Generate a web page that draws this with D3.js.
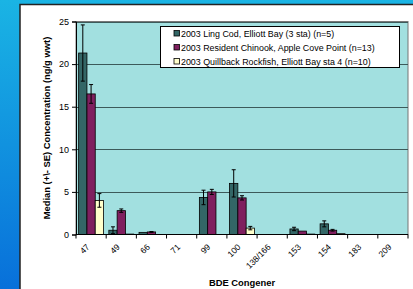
<!DOCTYPE html>
<meta charset="utf-8"/>
<style>
  html, body { margin: 0; padding: 0; overflow: hidden; }
  text { font-family: "Liberation Sans", Arial, sans-serif; fill: #000; }
</style>
<body>
<svg width="413" height="289"></svg>
</body>
<script src="https://d3js.org/d3.v7.min.js"></script>
<script>

  var congeners = ["47", "49", "66", "71", "99", "100", "138/166", "153", "154", "183", "209"]
  var seriesNames = [
    "2003 Ling Cod, Elliott Bay (3 sta) (n=5)",
    "2003 Resident Chinook, Apple Cove Point (n=13)",
    "2003 Quillback Rockfish, Elliott Bay sta 4 (n=10)"
  ]
  var seriesColors = ["#336666", "#7f1f5f", "#ffffcc"]

  // medians per congener
  var lingCod  = [21.3, 0.5, 0.25, 0, 4.35, 6.0, 0, 0.65, 1.25, 0, 0]
  var chinook  = [16.5, 2.8, 0.3, 0, 5.0, 4.3, 0, 0.4, 0.5, 0, 0]
  var quillback = [4.0, 0.05, 0, 0, 0, 0.75, 0, 0.05, 0.1, 0, 0]
  // standard errors (0 = no whisker)
  var lingCodSE  = [3.3, 0.4, 0, 0, 0.85, 1.6, 0, 0.2, 0.35, 0, 0]
  var chinookSE  = [1.1, 0.2, 0.05, 0, 0.3, 0.25, 0, 0, 0.1, 0, 0]
  var quillbackSE = [0.8, 0, 0, 0, 0, 0.2, 0, 0, 0, 0, 0]

  var yTicks = [0, 5, 10, 15, 20, 25]

  var svg = d3.select("svg")

  // blue backdrop
  var defs = svg.append("defs")
  var grad = defs.append("linearGradient").attr("id", "bg")
    .attr("x1", 0).attr("y1", 0).attr("x2", 0).attr("y2", 1)
  grad.append("stop").attr("offset", "0%").attr("stop-color", "#1ab4e4")
  grad.append("stop").attr("offset", "100%").attr("stop-color", "#0870da")
  svg.append("rect").attr("width", 413).attr("height", 289).attr("fill", "url(#bg)")

  // white chart panel
  svg.append("rect")
    .attr("x", 20).attr("y", 4.5).attr("width", 420).attr("height", 300)
    .attr("fill", "#fff").attr("stroke", "#222").attr("stroke-width", 1.5)

  var margin = { left: 76, top: 21.5, right: 408, bottom: 234.5 }

  var x = d3.scaleBand().domain(congeners).range([margin.left, margin.right])
  var y = d3.scaleLinear().domain([0, 25]).range([margin.bottom, margin.top])
  var inner = d3.scaleBand().domain(d3.range(3)).range([0, x.bandwidth()]).paddingOuter(0.32).paddingInner(0)

  // plot area
  svg.append("rect")
    .attr("x", margin.left).attr("y", margin.top)
    .attr("width", margin.right - margin.left).attr("height", margin.bottom - margin.top)
    .attr("fill", "#a2e0e0").attr("stroke", "#777").attr("stroke-width", 1)

  // gridlines
  svg.append("g").selectAll("line")
    .data(yTicks.filter(function (d) { return d > 0 }))
    .enter().append("line")
    .attr("x1", margin.left).attr("x2", margin.right)
    .attr("y1", function (d) { return Math.round(y(d)) + 0.5 })
    .attr("y2", function (d) { return Math.round(y(d)) + 0.5 })
    .attr("stroke", "#3c5a5a").attr("stroke-width", 1)

  var series = [lingCod, chinook, quillback]
  var ses = [lingCodSE, chinookSE, quillbackSE]

  var bars = []
  series.forEach(function (vals, s) {
    vals.forEach(function (v, i) {
      bars.push({ cat: congeners[i], s: s, v: v, se: ses[s][i] })
    })
  })

  svg.append("g").selectAll("rect")
    .data(bars.filter(function (d) { return d.v > 0 }))
    .enter().append("rect")
    .attr("x", function (d) { return x(d.cat) + inner(d.s) })
    .attr("y", function (d) { return y(d.v) })
    .attr("width", inner.bandwidth())
    .attr("height", function (d) { return y(0) - y(d.v) })
    .attr("fill", function (d) { return seriesColors[d.s] })
    .attr("stroke", "#000").attr("stroke-width", 0.8)

  // error bars
  var eb = svg.append("g").attr("stroke", "#000").attr("stroke-width", 1)
  bars.filter(function (d) { return d.se > 0 }).forEach(function (d) {
    var cx = x(d.cat) + inner(d.s) + inner.bandwidth() / 2
    var lo = Math.max(0, d.v - d.se), hi = d.v + d.se
    eb.append("line").attr("x1", cx).attr("x2", cx).attr("y1", y(lo)).attr("y2", y(hi))
    eb.append("line").attr("x1", cx - 2).attr("x2", cx + 2).attr("y1", y(hi)).attr("y2", y(hi))
    eb.append("line").attr("x1", cx - 2).attr("x2", cx + 2).attr("y1", y(lo)).attr("y2", y(lo))
  })

  // y axis
  var yAxis = svg.append("g")
    .attr("transform", "translate(" + margin.left + ",0)")
    .call(d3.axisLeft(y).tickValues(yTicks).tickSize(4).tickPadding(3))
  yAxis.select(".domain").attr("stroke", "#000")
  yAxis.selectAll(".tick line").attr("stroke", "#000")
  yAxis.selectAll("text").style("font-size", "9px").attr("fill", "#000")

  // x axis: ticks on category boundaries
  var xg = svg.append("g").attr("transform", "translate(0," + margin.bottom + ")")
  xg.append("line").attr("x1", margin.left).attr("x2", margin.right)
    .attr("stroke", "#000").attr("stroke-width", 1.2)
  xg.selectAll(".bt").data(congeners.concat(["end"])).enter().append("line")
    .attr("x1", function (d, i) { return margin.left + i * x.step() })
    .attr("x2", function (d, i) { return margin.left + i * x.step() })
    .attr("y1", 0).attr("y2", 4).attr("stroke", "#000")
  xg.selectAll(".lbl").data(congeners).enter().append("text")
    .attr("transform", function (d) {
      return "translate(" + (x(d) + x.bandwidth() / 2 - 3) + ",11) rotate(-45)"
    })
    .attr("text-anchor", "end")
    .attr("dy", "0.35em")
    .style("font-size", "8.5px")
    .text(function (d) { return d })

  // axis titles
  svg.append("text")
    .attr("transform", "translate(50," + ((margin.top + margin.bottom) / 2) + ") rotate(-90)")
    .attr("text-anchor", "middle")
    .style("font-size", "9.4px").style("font-weight", "bold")
    .text("Median (+\\- SE) Concentration (ng/g wwt)")

  svg.append("text")
    .attr("x", 242).attr("y", 286)
    .attr("text-anchor", "middle")
    .style("font-size", "9.4px").style("font-weight", "bold")
    .text("BDE Congener")

  // legend
  var lg = svg.append("g")
  lg.append("rect").attr("x", 160.5).attr("y", 26.5).attr("width", 239).attr("height", 41)
    .attr("fill", "#fff").attr("stroke", "#000").attr("stroke-width", 1)
  seriesNames.forEach(function (name, i) {
    var yy = 33.5 + i * 14
    lg.append("rect").attr("x", 174).attr("y", yy - 3).attr("width", 5.5).attr("height", 5.5)
      .attr("fill", seriesColors[i]).attr("stroke", "#000").attr("stroke-width", 0.8)
    lg.append("text").attr("x", 181).attr("y", yy).attr("dy", "0.35em")
      .style("font-size", "8.9px").text(name)
  })

</script>
